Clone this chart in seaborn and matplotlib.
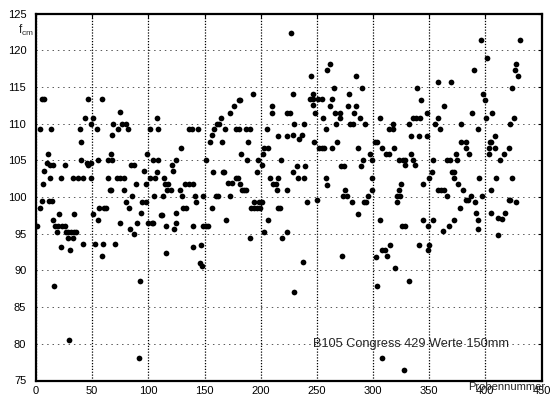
import matplotlib
matplotlib.use("Agg")
import matplotlib.pyplot as plt
import matplotlib.transforms as mtransforms
import pandas as pd
import seaborn as sns

# Probennummer (sample number) of each cube
probe = [
    5.1, 6.8, 46.7, 58.6, 43.8, 50.9, 49.1, 68.8, 3.9, 13.4, 39.0, 54.5, 67.6, 39.9, 10.4, 66.4,
    40.4, 55.1, 64.5, 67.5, 9.5, 45.4, 49.0, 12.2, 15.2, 26.0, 46.7, 6.8, 12.2, 22.3, 33.0, 37.8, 42.0, 49.1, 64.0,
    6.3, 65.8, 67.0, 5.7, 11.6, 14.0, 3.3, 56.3, 60.4, 62.2, 50.3, 20.5, 34.2, 15.2, 55.1,
    17.0, 20.0, 23.0, 26.0, 1.0, 18.8, 26.5, 28.9, 31.3, 33.6, 35.4, 28.9, 33.0,
    42.0, 52.1, 59.2, 70.5, 22.3, 30.0, 58.6, 16.4, 29.0,
    75.0, 107.8, 76.2, 79.8, 72.6, 81.5, 101.8, 109.0, 136.3, 138.7, 144.0, 129.2, 98.8, 104.2, 109.0, 124.4,
    84.5, 87.5, 121.4, 122.0, 95.8, 107.8, 72.0, 75.0, 78.0, 101.8, 106.0, 113.7,
    78.6, 89.3, 97.6, 114.9, 117.3, 132.9, 135.8, 139.4, 116.7, 120.2, 128.0,
    85.7, 105.4, 113.1, 130.4, 141.1, 94.6, 80.4, 131.0, 133.3, 97.6, 82.7, 142.3,
    124.4, 111.3, 112.5, 93.5, 116.1, 139.9, 148.8, 125.0, 74.4, 89.9, 99.4, 103.0, 104.2,
    122.6, 83.3, 86.9, 139.9, 116.1, 146.0, 148.0, 92.3, 92.0,
    193.2, 180.7, 181.8, 176.5, 173.0, 210.4, 209.8, 223.5, 226.0, 164.6, 162.8, 161.0,
    158.6, 168.2, 178.3, 180.7, 186.6, 190.2, 205.6, 156.3, 215.2, 223.5, 154.5, 165.8, 189.0,
    203.3, 206.8, 182.4, 150.9, 187.8, 197.9, 218.0, 202.0, 200.9, 196.7, 157.4, 166.4, 167.6,
    178.3, 180.0, 207.9, 171.2, 174.7, 181.2, 211.0, 213.4, 215.8, 183.6, 185.4, 187.2, 214.6, 223.5,
    149.1, 160.4, 162.2, 173.0, 198.5, 194.3, 200.9, 156.3, 191.3, 194.3, 196.7, 199.1, 215.8, 217.6,
    169.4, 206.2, 150.9, 152.7, 203.3, 223.5, 146.7, 190.2, 218.8,
    226.8, 261.9, 258.9, 244.6, 284.5, 228.6, 265.5, 289.9, 246.4, 278.6,
    243.6, 246.4, 250.6, 254.8, 263.7, 246.4, 261.9, 277.4, 285.1, 248.2, 266.0, 270.2, 282.7,
    229.8, 238.7, 255.4, 270.2, 288.7, 266.7, 279.8, 282.1, 292.9, 228.6, 236.9, 257.8, 234.5, 247.6,
    251.8, 254.8, 256.6, 263.7, 267.9, 286.3, 297.7, 291.1, 299.5,
    229.2, 232.1, 239.3, 233.3, 238.7, 257.8, 271.4, 274.4, 259.0, 289.3, 298.8,
    275.0, 273.2, 276.8, 281.5, 291.7, 294.0, 295.8, 299.5, 241.1, 250.0, 286.3, 272.1, 238.1, 229.8,
    358.0, 369.4, 339.6, 342.6, 363.4, 347.7, 358.3, 306.2, 335.4, 338.4, 341.4,
    317.5, 332.0, 355.3, 359.5, 314.5, 317.5, 334.2, 340.8, 347.9,
    301.5, 303.3, 308.0, 318.7, 311.6, 314.5, 334.2, 322.9, 327.1, 328.3, 336.0, 353.2, 366.3, 368.8,
    328.9, 337.2, 352.7, 370.6, 371.7, 372.3, 349.7, 325.3, 344.3, 357.7, 360.1, 363.0, 375.3, 323.5,
    321.7, 324.1, 366.0, 321.1, 377.1, 306.2, 325.9, 328.3, 344.9, 353.8, 349.4, 361.9, 367.3, 371.7,
    341.1, 350.0, 349.4, 315.1, 310.4, 308.0, 303.0, 312.2, 319.9, 331.8, 303.9, 308.0, 328.0,
    396.4, 430.9, 401.8, 390.2, 427.4, 426.2, 429.2, 423.8, 397.6, 399.4, 388.1, 406.0, 400.6, 425.6,
    378.6, 422.0, 393.5, 378.6, 382.7, 404.2, 405.4, 408.3, 382.7, 403.0, 408.9, 421.4, 416.7,
    385.1, 373.8, 375.0, 403.6, 412.8, 394.6, 409.8, 423.5, 405.4, 379.8, 387.0, 397.0,
    383.0, 385.0, 390.5, 421.0, 422.2, 427.6, 391.7, 404.8, 417.3, 410.9, 415.1, 393.5, 410.9, 393.5,
]

# cube compressive strength f_cm of each sample
fcm = [
    113.4, 113.4, 113.4, 113.4, 110.8, 110.8, 110.0, 110.0, 109.2, 109.2, 109.2, 109.2, 108.5, 107.5, 105.9, 105.9,
    105.0, 105.0, 105.0, 105.0, 104.7, 104.7, 104.7, 104.3, 104.3, 104.3, 104.3, 103.5, 102.6, 102.6, 102.6, 102.6, 102.6, 102.6, 102.6,
    101.8, 101.0, 101.0, 99.4, 99.4, 99.4, 98.5, 98.5, 98.5, 98.5, 97.7, 97.7, 97.7, 96.9, 96.9,
    96.1, 96.1, 96.1, 96.1, 96.1, 95.2, 95.2, 95.2, 95.2, 95.2, 95.2, 94.4, 94.4,
    93.6, 93.6, 93.6, 93.6, 93.2, 92.8, 92.0, 87.9, 80.5,
    111.6, 110.8, 110.0, 110.0, 109.2, 109.2, 109.2, 109.2, 109.2, 109.2, 109.2, 106.7, 105.9, 105.0, 105.0, 105.0,
    104.3, 104.3, 104.3, 103.5, 103.5, 103.4, 102.6, 102.6, 102.6, 102.6, 102.6, 102.6,
    100.9, 101.8, 101.8, 101.8, 101.8, 101.8, 101.8, 101.8, 100.9, 100.9, 100.9,
    100.1, 100.1, 100.1, 100.1, 100.1, 99.3, 99.3, 98.5, 98.5, 99.3, 98.5, 99.3,
    97.8, 97.6, 97.6, 97.8, 96.0, 96.0, 96.0, 96.5, 96.5, 96.5, 96.5, 96.5, 96.5,
    95.6, 95.6, 94.9, 93.2, 92.4, 91.0, 90.6, 88.6, 78.0,
    114.0, 113.2, 113.2, 112.4, 111.5, 112.4, 111.5, 111.5, 111.5, 110.8, 110.0, 110.0,
    109.2, 109.2, 109.2, 109.2, 109.2, 109.2, 109.2, 108.4, 108.3, 108.3, 107.5, 107.5, 107.5,
    106.7, 106.7, 105.9, 105.1, 105.1, 105.1, 105.0, 105.9, 104.3, 103.4, 103.4, 103.4, 103.4,
    102.6, 102.6, 102.6, 101.9, 101.9, 101.8, 101.8, 101.8, 102.6, 101.0, 101.0, 101.0, 101.0, 100.9,
    100.1, 100.1, 100.1, 100.1, 99.3, 99.3, 99.3, 98.5, 98.5, 98.5, 98.5, 98.5, 98.5, 98.5,
    96.9, 96.9, 96.0, 96.0, 95.2, 95.2, 93.5, 94.4, 94.4,
    122.3, 118.1, 117.3, 116.5, 116.5, 114.0, 114.8, 114.8, 114.0, 114.0,
    113.3, 113.3, 113.3, 113.3, 113.3, 112.5, 112.4, 112.4, 112.4, 111.5, 111.5, 111.5, 111.5,
    110.0, 110.0, 110.8, 110.8, 110.8, 109.9, 109.9, 109.9, 109.9, 108.4, 108.4, 109.2, 107.9, 107.5,
    106.7, 106.7, 106.7, 106.7, 107.5, 106.7, 105.9, 105.1, 105.1,
    103.4, 104.2, 104.2, 102.6, 102.6, 102.6, 104.2, 104.2, 101.7, 104.2, 102.6,
    100.9, 100.1, 100.1, 99.3, 99.3, 99.3, 100.1, 100.9, 99.3, 99.6, 97.7, 91.9, 91.1, 87.0,
    115.6, 115.6, 114.8, 113.2, 112.4, 111.5, 110.8, 110.8, 110.8, 110.8, 110.8,
    110.0, 110.0, 110.0, 109.2, 109.2, 109.2, 108.3, 108.3, 108.3,
    107.5, 107.5, 106.7, 106.7, 105.9, 105.9, 105.9, 105.1, 105.1, 105.1, 105.1, 105.1, 105.1, 105.1,
    104.3, 104.3, 103.4, 103.4, 103.4, 102.6, 102.6, 101.8, 101.8, 100.9, 100.9, 100.9, 101.8, 100.9,
    100.1, 100.1, 100.1, 99.3, 98.5, 96.9, 96.1, 96.1, 96.9, 96.9, 96.0, 95.3, 96.0, 96.9,
    93.5, 93.5, 92.8, 93.5, 92.8, 92.8, 91.8, 91.9, 90.3, 88.6, 87.9, 78.0, 76.4,
    121.4, 121.4, 119.0, 117.3, 118.1, 117.3, 116.5, 114.8, 114.0, 113.2, 111.5, 111.5, 110.8, 110.8,
    110.0, 110.0, 109.2, 107.5, 107.5, 107.5, 107.5, 108.3, 106.7, 106.7, 106.7, 106.7, 105.9,
    105.9, 105.9, 105.1, 105.9, 105.1, 102.6, 102.6, 102.6, 100.9, 100.9, 100.1, 100.1,
    99.6, 99.6, 99.3, 99.6, 99.6, 99.3, 97.8, 97.8, 97.8, 97.1, 97.0, 96.9, 94.8, 95.6,
]

x_ticks = [0, 50, 100, 150, 200, 250, 300, 350, 400, 450]
y_ticks = [75, 80, 85, 90, 95, 100, 105, 110, 115, 120, 125]
caption = "B105 Congress 429 Werte 150mm"
x_label = "Probennummer"
y_label = r"$\mathregular{f_{cm}}$"

sns.set_style("white")
plt.rcParams["font.family"] = ["Liberation Sans", "DejaVu Sans"]
plt.rcParams["mathtext.fontset"] = "custom"
plt.rcParams["mathtext.rm"] = "Liberation Sans"

fig = plt.figure(figsize=(5.52, 4.01), dpi=100)
W, H = 552.0, 401.0
ax = fig.add_axes([36 / W, 1 - 380.5 / H, (541.5 - 36) / W, (380.5 - 13.5) / H])

df = pd.DataFrame({"Probennummer": probe, "fcm": fcm})
sns.scatterplot(data=df, x="Probennummer", y="fcm", ax=ax, color="black",
                s=17, linewidth=0, legend=False, zorder=3)

ax.set_xlim(0, 450)
ax.set_ylim(75, 125)
ax.set_xticks(x_ticks)
ax.set_yticks(y_ticks)
ax.set_xlabel("")
ax.set_ylabel("")

# dense dotted verticals, sparse faint horizontals
ax.xaxis.grid(True, color="black", linestyle=(0, (1, 1.3)), linewidth=0.9)
ax.yaxis.grid(True, color="0.35", linestyle=(0, (1.5, 4)), linewidth=0.7)
ax.set_axisbelow(True)

for sp in ax.spines.values():
    sp.set_visible(True)
    sp.set_color("black")
    sp.set_linewidth(1.6)

ax.tick_params(axis="both", direction="in", length=3, width=0.8,
               top=True, right=True, labelsize=8, colors="black")
ax.tick_params(axis="x", pad=4)
ax.tick_params(axis="y", pad=7)

trans = mtransforms.blended_transform_factory(ax.transAxes, ax.transData)
ax.text(-0.004, 122.7, y_label, transform=trans, ha="right", va="center",
        fontsize=8.5)
fig.text(468 / W, 1 - 390 / H, x_label, fontsize=8, ha="left", va="baseline")
ax.text(247, 80, caption, fontsize=9.2, ha="left", va="center", zorder=4)

fig.savefig("out.png", dpi=100)
